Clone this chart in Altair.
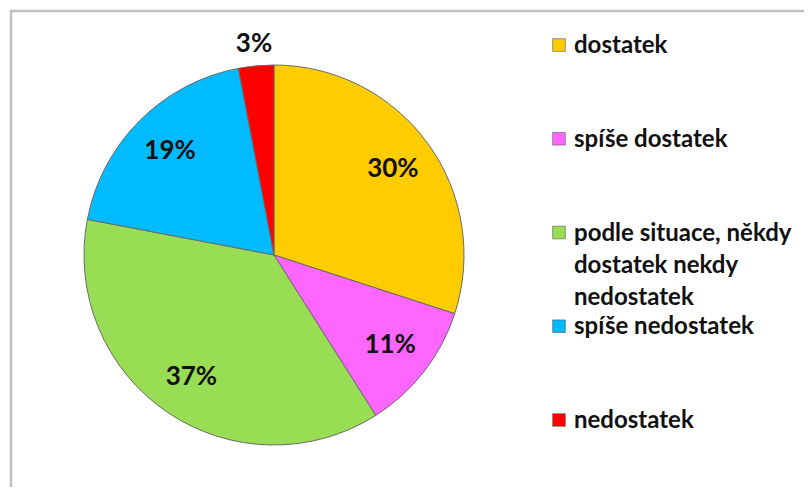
import altair as alt
import pandas as pd

categories = [
    "dostatek",
    "spíše dostatek",
    "podle situace, někdy\ndostatek nekdy\nnedostatek",
    "spíše nedostatek",
    "nedostatek",
]
values = [30, 11, 37, 19, 3]
colors = ["#FFCC00", "#FF66FF", "#99DD55", "#00BBFF", "#FF0000"]

df = pd.DataFrame({
    "category": categories,
    "value": values,
    "idx": list(range(len(categories))),
})

CX, CY, R = 264, 247, 190
FONT = "Lato"

color = alt.Color("category:N", scale=alt.Scale(domain=categories, range=colors), legend=None)
order = alt.Order("idx:Q", sort="ascending")

base = alt.Chart(df)

pie = base.mark_arc(outerRadius=R, stroke="#6a6a6a", strokeWidth=1).encode(
    theta=alt.Theta("value:Q", stack=True),
    color=color,
    order=order,
    x=alt.value(CX),
    y=alt.value(CY),
)

labels = base.transform_window(
    cum="sum(value)", sort=[alt.SortField("idx", order="ascending")]
).transform_joinaggregate(
    total="sum(value)"
).transform_calculate(
    lbl="datum.value + '%'",
    rad="datum.value < 5 ? 212 : 147",
    ang="2 * PI * (datum.cum - datum.value / 2) / datum.total",
    px=f"{CX} + datum.rad * sin(datum.ang)",
    py=f"{CY} - datum.rad * cos(datum.ang)",
).mark_text(font=FONT, fontSize=26, fontWeight="bold", color="#111111",
            align="center", baseline="middle").encode(
    x=alt.X("px:Q", scale=None),
    y=alt.Y("py:Q", scale=None),
    text="lbl:N",
)

yleg = alt.Y("idx:Q", scale=alt.Scale(domain=[0, 4], range=[37, 412]), axis=None)

leg_sq = base.mark_square(size=160, opacity=1, stroke="#555555", strokeWidth=0.6).encode(
    x=alt.value(549),
    y=yleg,
    color=color,
)

leg_txt = base.mark_text(font=FONT, fontSize=24, fontWeight="bold", color="#111111",
                         align="left", baseline="alphabetic", dy=8,
                         lineBreak="\n", lineHeight=32).encode(
    x=alt.value(564),
    y=yleg,
    text="category:N",
)

border_left = alt.Chart(pd.DataFrame({"a": [0]})).mark_rule(color="#c0c0c0", strokeWidth=2.5).encode(
    x=alt.value(1), y=alt.value(2), y2=alt.value(479)
)
border_top = alt.Chart(pd.DataFrame({"a": [0]})).mark_rule(color="#c0c0c0", strokeWidth=2.5).encode(
    x=alt.value(0), x2=alt.value(796), y=alt.value(3)
)

chart = alt.layer(border_left, border_top, pie, labels, leg_sq, leg_txt).properties(
    width=796,
    height=479,
    padding=0,
    autosize=alt.AutoSizeParams(type="fit", contains="padding"),
).resolve_scale(y="independent").configure(background="white", view=alt.ViewConfig(stroke=None))

chart.save("out.html", embed_options={"renderer": "svg", "actions": False})
